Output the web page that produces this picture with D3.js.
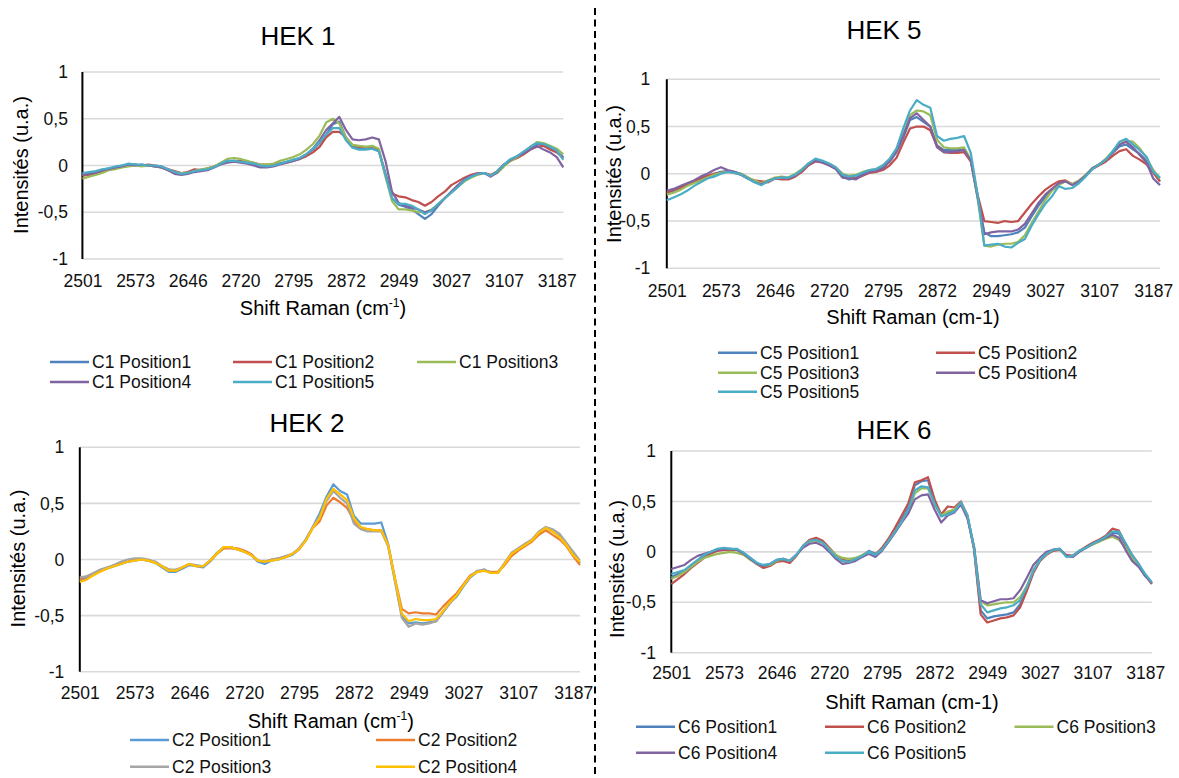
<!DOCTYPE html>
<html>
<head>
<meta charset="utf-8">
<script src="https://cdn.jsdelivr.net/npm/d3@7"></script>
<style>
  body { margin: 0; background: #fff; }
  svg { display: block; }
  text { font-family: "Liberation Sans", Arial, sans-serif; fill: #111; }
</style>
</head>
<body>
<svg id="fig" width="1179" height="778"></svg>
<script>
// Category axis: Raman shift labels shown every 8 samples
const xTickLabels = ["2501", "2573", "2646", "2720", "2795", "2872", "2949", "3027", "3107", "3187"];
const yTickValues = [1, 0.5, 0, -0.5, -1];
const yTickLabels = ["1", "0,5", "0", "-0,5", "-1"];
const SAMPLES_PER_TICK = 8;

// HEK 1 spectra
const c1Position1 = [-0.10,-0.09,-0.07,-0.05,-0.03,-0.02,0.00,0.01,0.01,0.00,
  0.00,-0.01,-0.02,-0.04,-0.07,-0.09,-0.08,-0.06,-0.05,-0.04,
  -0.01,0.02,0.04,0.05,0.04,0.03,0.01,0.00,-0.01,0.00,
  0.02,0.04,0.06,0.08,0.12,0.17,0.24,0.33,0.44,0.47,
  0.30,0.20,0.18,0.18,0.18,0.16,-0.08,-0.35,-0.42,-0.44,
  -0.47,-0.52,-0.57,-0.52,-0.43,-0.35,-0.28,-0.22,-0.16,-0.12,
  -0.09,-0.08,-0.11,-0.06,0.01,0.06,0.10,0.14,0.19,0.23,
  0.22,0.19,0.15,0.09];
const c1Position2 = [-0.11,-0.10,-0.08,-0.06,-0.04,-0.02,-0.01,0.00,0.01,0.00,
  0.01,0.00,-0.01,-0.04,-0.06,-0.08,-0.07,-0.04,-0.05,-0.03,
  -0.01,0.02,0.04,0.05,0.05,0.04,0.03,0.01,0.01,0.01,
  0.02,0.03,0.05,0.07,0.10,0.14,0.20,0.30,0.36,0.36,
  0.30,0.22,0.20,0.20,0.19,0.16,-0.10,-0.30,-0.33,-0.34,
  -0.37,-0.39,-0.43,-0.39,-0.33,-0.28,-0.21,-0.17,-0.13,-0.10,
  -0.08,-0.08,-0.10,-0.06,0.01,0.05,0.08,0.12,0.17,0.20,
  0.21,0.17,0.14,0.08];
const c1Position3 = [-0.14,-0.12,-0.10,-0.08,-0.05,-0.04,-0.02,-0.01,0.00,-0.01,
  0.00,-0.01,-0.02,-0.05,-0.07,-0.08,-0.08,-0.06,-0.04,-0.03,
  -0.01,0.03,0.07,0.08,0.07,0.05,0.03,0.01,0.01,0.02,
  0.05,0.07,0.09,0.12,0.17,0.23,0.32,0.46,0.50,0.45,
  0.30,0.22,0.21,0.20,0.21,0.18,-0.12,-0.38,-0.47,-0.47,
  -0.48,-0.50,-0.50,-0.47,-0.42,-0.35,-0.29,-0.23,-0.17,-0.13,
  -0.10,-0.08,-0.11,-0.08,-0.01,0.05,0.09,0.14,0.20,0.25,
  0.24,0.21,0.18,0.12];
const c1Position4 = [-0.10,-0.09,-0.08,-0.05,-0.04,-0.02,-0.01,0.01,0.00,0.01,
  0.00,-0.01,-0.02,-0.05,-0.09,-0.10,-0.09,-0.07,-0.06,-0.05,
  -0.02,0.01,0.03,0.04,0.03,0.02,0.00,-0.02,-0.02,-0.01,
  0.01,0.03,0.05,0.07,0.12,0.18,0.27,0.38,0.45,0.52,
  0.38,0.28,0.27,0.28,0.30,0.28,0.05,-0.28,-0.40,-0.43,
  -0.45,-0.47,-0.50,-0.48,-0.42,-0.35,-0.28,-0.21,-0.15,-0.11,
  -0.09,-0.08,-0.12,-0.07,0.01,0.06,0.10,0.13,0.17,0.21,
  0.17,0.14,0.09,-0.02];
const c1Position5 = [-0.08,-0.07,-0.06,-0.04,-0.03,-0.01,0.00,0.02,0.01,0.01,
  0.00,0.00,-0.01,-0.04,-0.07,-0.09,-0.08,-0.06,-0.05,-0.04,
  -0.02,0.02,0.05,0.05,0.04,0.03,0.02,0.00,-0.01,0.00,
  0.02,0.04,0.06,0.08,0.12,0.18,0.25,0.33,0.40,0.40,
  0.27,0.19,0.17,0.17,0.18,0.15,-0.10,-0.35,-0.41,-0.41,
  -0.43,-0.47,-0.52,-0.48,-0.41,-0.35,-0.29,-0.23,-0.16,-0.12,
  -0.09,-0.08,-0.11,-0.06,0.01,0.07,0.10,0.15,0.20,0.24,
  0.23,0.20,0.16,0.06];

// HEK 5 spectra
const c5Position1 = [-0.20,-0.18,-0.15,-0.12,-0.09,-0.06,-0.03,0.00,0.02,0.03,
  0.02,0.00,-0.04,-0.08,-0.10,-0.07,-0.05,-0.04,-0.05,-0.02,
  0.04,0.11,0.15,0.13,0.10,0.06,-0.03,-0.06,-0.04,0.00,
  0.02,0.03,0.07,0.13,0.23,0.38,0.57,0.60,0.55,0.50,
  0.30,0.25,0.25,0.25,0.26,0.14,-0.25,-0.62,-0.66,-0.66,
  -0.65,-0.64,-0.62,-0.57,-0.45,-0.34,-0.25,-0.17,-0.11,-0.08,
  -0.11,-0.08,-0.02,0.06,0.10,0.15,0.22,0.29,0.31,0.26,
  0.21,0.14,0.02,-0.08];
const c5Position2 = [-0.20,-0.17,-0.15,-0.11,-0.08,-0.05,-0.02,0.00,0.01,0.03,
  0.01,-0.01,-0.05,-0.07,-0.08,-0.09,-0.05,-0.06,-0.06,-0.03,
  0.02,0.09,0.13,0.12,0.09,0.06,0.00,-0.04,-0.05,-0.02,
  0.01,0.02,0.04,0.09,0.17,0.33,0.48,0.50,0.50,0.46,
  0.29,0.23,0.22,0.22,0.23,0.13,-0.22,-0.50,-0.51,-0.52,
  -0.50,-0.51,-0.50,-0.41,-0.32,-0.24,-0.17,-0.12,-0.08,-0.07,
  -0.11,-0.08,-0.02,0.05,0.09,0.13,0.19,0.24,0.26,0.19,
  0.15,0.10,0.01,-0.08];
const c5Position3 = [-0.22,-0.20,-0.17,-0.13,-0.10,-0.07,-0.04,-0.01,0.01,0.02,
  0.01,0.00,-0.04,-0.07,-0.10,-0.07,-0.04,-0.03,-0.04,0.00,
  0.05,0.11,0.15,0.13,0.11,0.07,0.00,-0.02,-0.01,0.02,
  0.04,0.05,0.09,0.16,0.26,0.42,0.62,0.67,0.66,0.62,
  0.36,0.28,0.27,0.27,0.28,0.15,-0.26,-0.76,-0.77,-0.75,
  -0.74,-0.74,-0.72,-0.65,-0.52,-0.40,-0.28,-0.18,-0.12,-0.08,
  -0.11,-0.07,-0.01,0.06,0.10,0.16,0.24,0.31,0.35,0.34,
  0.27,0.17,0.04,-0.05];
const c5Position4 = [-0.18,-0.16,-0.13,-0.10,-0.07,-0.03,0.00,0.04,0.07,0.04,
  0.02,-0.01,-0.05,-0.09,-0.11,-0.08,-0.05,-0.04,-0.05,-0.02,
  0.04,0.10,0.14,0.12,0.09,0.05,-0.04,-0.05,-0.06,-0.01,
  0.02,0.03,0.06,0.13,0.24,0.40,0.59,0.64,0.57,0.50,
  0.28,0.23,0.23,0.24,0.25,0.14,-0.24,-0.64,-0.62,-0.61,
  -0.61,-0.61,-0.59,-0.53,-0.42,-0.31,-0.22,-0.16,-0.10,-0.08,
  -0.12,-0.08,-0.02,0.06,0.10,0.15,0.23,0.31,0.34,0.28,
  0.20,0.12,-0.05,-0.12];
const c5Position5 = [-0.28,-0.25,-0.22,-0.18,-0.13,-0.09,-0.05,-0.03,0.00,0.02,
  0.01,-0.01,-0.05,-0.09,-0.12,-0.08,-0.05,-0.04,-0.04,-0.01,
  0.04,0.11,0.16,0.14,0.11,0.07,-0.01,-0.03,-0.02,0.01,
  0.04,0.05,0.09,0.16,0.27,0.48,0.67,0.78,0.73,0.70,
  0.40,0.35,0.37,0.38,0.40,0.22,-0.22,-0.76,-0.75,-0.74,
  -0.77,-0.78,-0.73,-0.69,-0.55,-0.43,-0.32,-0.24,-0.13,-0.16,
  -0.15,-0.10,-0.03,0.05,0.10,0.15,0.24,0.34,0.37,0.31,
  0.25,0.18,0.02,-0.04];

// HEK 2 spectra
const c2Position1 = [-0.19,-0.17,-0.13,-0.10,-0.08,-0.06,-0.04,-0.02,-0.01,0.00,
  -0.01,-0.03,-0.07,-0.11,-0.11,-0.08,-0.05,-0.06,-0.07,-0.02,
  0.05,0.10,0.11,0.09,0.07,0.04,-0.02,-0.04,-0.01,0.00,
  0.02,0.04,0.09,0.18,0.29,0.41,0.56,0.67,0.61,0.58,
  0.39,0.32,0.32,0.32,0.33,0.14,-0.18,-0.50,-0.57,-0.56,
  -0.57,-0.56,-0.55,-0.47,-0.39,-0.33,-0.24,-0.16,-0.11,-0.09,
  -0.12,-0.12,-0.04,0.05,0.09,0.14,0.17,0.24,0.28,0.25,
  0.21,0.13,0.05,-0.03];
const c2Position2 = [-0.18,-0.15,-0.13,-0.10,-0.08,-0.05,-0.03,-0.02,0.00,0.00,
  -0.01,-0.02,-0.06,-0.09,-0.10,-0.07,-0.04,-0.06,-0.06,-0.01,
  0.05,0.10,0.10,0.10,0.08,0.05,-0.01,-0.02,0.00,0.01,
  0.02,0.05,0.09,0.17,0.28,0.34,0.48,0.55,0.51,0.46,
  0.35,0.28,0.27,0.26,0.26,0.12,-0.17,-0.44,-0.48,-0.47,
  -0.48,-0.48,-0.49,-0.42,-0.36,-0.30,-0.22,-0.14,-0.11,-0.10,
  -0.11,-0.11,-0.05,0.03,0.08,0.12,0.16,0.22,0.26,0.22,
  0.18,0.12,0.03,-0.05];
const c2Position3 = [-0.16,-0.15,-0.12,-0.09,-0.07,-0.05,-0.02,0.00,0.01,0.01,
  0.00,-0.02,-0.06,-0.09,-0.09,-0.07,-0.04,-0.05,-0.06,-0.01,
  0.06,0.11,0.11,0.09,0.07,0.04,-0.01,-0.02,0.00,0.01,
  0.03,0.05,0.10,0.18,0.29,0.38,0.52,0.61,0.55,0.50,
  0.32,0.27,0.25,0.25,0.25,0.12,-0.20,-0.52,-0.60,-0.57,
  -0.58,-0.57,-0.55,-0.47,-0.39,-0.32,-0.23,-0.15,-0.10,-0.09,
  -0.12,-0.12,-0.03,0.06,0.10,0.14,0.18,0.25,0.29,0.27,
  0.23,0.15,0.07,-0.01];
const c2Position4 = [-0.20,-0.18,-0.14,-0.11,-0.08,-0.06,-0.04,-0.02,-0.01,0.00,
  -0.01,-0.03,-0.06,-0.10,-0.10,-0.07,-0.04,-0.06,-0.06,-0.01,
  0.05,0.11,0.11,0.09,0.07,0.04,-0.01,-0.02,-0.01,0.00,
  0.02,0.05,0.09,0.17,0.28,0.37,0.54,0.63,0.58,0.53,
  0.37,0.29,0.27,0.26,0.26,0.13,-0.17,-0.48,-0.55,-0.53,
  -0.54,-0.54,-0.53,-0.46,-0.38,-0.32,-0.23,-0.15,-0.11,-0.10,
  -0.12,-0.12,-0.04,0.05,0.09,0.13,0.17,0.24,0.28,0.25,
  0.20,0.13,0.04,-0.02];

// HEK 6 spectra
const c6Position1 = [-0.25,-0.22,-0.19,-0.14,-0.09,-0.04,-0.01,0.02,0.03,0.03,
  0.02,-0.01,-0.06,-0.11,-0.14,-0.13,-0.09,-0.08,-0.09,-0.03,
  0.05,0.11,0.12,0.09,0.02,-0.04,-0.09,-0.10,-0.07,-0.04,
  0.01,-0.02,0.03,0.12,0.21,0.32,0.44,0.66,0.70,0.71,
  0.48,0.36,0.38,0.41,0.49,0.34,0.03,-0.58,-0.66,-0.64,
  -0.63,-0.62,-0.60,-0.52,-0.37,-0.20,-0.09,-0.02,0.02,0.03,
  -0.04,-0.04,0.01,0.04,0.08,0.11,0.15,0.19,0.18,0.07,
  -0.04,-0.13,-0.23,-0.31];
const c6Position2 = [-0.32,-0.27,-0.22,-0.16,-0.11,-0.06,-0.02,0.01,0.02,0.02,
  0.02,-0.02,-0.07,-0.12,-0.16,-0.14,-0.10,-0.09,-0.11,-0.04,
  0.06,0.12,0.14,0.11,0.04,-0.03,-0.08,-0.09,-0.07,-0.05,
  0.00,-0.03,0.04,0.13,0.24,0.36,0.48,0.69,0.71,0.74,
  0.52,0.37,0.45,0.44,0.50,0.36,0.02,-0.62,-0.70,-0.68,
  -0.66,-0.65,-0.63,-0.55,-0.39,-0.21,-0.09,-0.03,0.01,0.02,
  -0.03,-0.04,0.01,0.05,0.09,0.12,0.16,0.23,0.21,0.08,
  -0.03,-0.12,-0.23,-0.32];
const c6Position3 = [-0.27,-0.24,-0.20,-0.15,-0.10,-0.06,-0.04,-0.02,-0.01,0.00,
  -0.01,-0.03,-0.08,-0.12,-0.14,-0.13,-0.09,-0.07,-0.09,-0.03,
  0.05,0.10,0.11,0.09,0.03,-0.03,-0.06,-0.07,-0.06,-0.03,
  0.00,-0.03,0.02,0.10,0.20,0.30,0.40,0.58,0.63,0.63,
  0.47,0.36,0.40,0.42,0.49,0.35,0.05,-0.49,-0.53,-0.52,
  -0.51,-0.50,-0.50,-0.45,-0.34,-0.18,-0.08,-0.02,0.02,0.03,
  -0.04,-0.05,0.01,0.04,0.07,0.10,0.13,0.15,0.12,0.04,
  -0.06,-0.14,-0.24,-0.31];
const c6Position4 = [-0.17,-0.15,-0.13,-0.08,-0.04,-0.02,0.00,0.02,0.03,0.03,
  0.02,-0.02,-0.07,-0.12,-0.14,-0.12,-0.08,-0.07,-0.09,-0.03,
  0.04,0.08,0.09,0.06,0.00,-0.07,-0.12,-0.11,-0.09,-0.05,
  -0.02,-0.05,0.01,0.10,0.19,0.29,0.38,0.52,0.56,0.57,
  0.42,0.29,0.36,0.39,0.47,0.33,0.05,-0.48,-0.51,-0.49,
  -0.47,-0.47,-0.46,-0.38,-0.26,-0.13,-0.06,0.00,0.02,0.03,
  -0.04,-0.05,0.00,0.04,0.08,0.11,0.14,0.17,0.14,0.02,
  -0.09,-0.15,-0.24,-0.31];
const c6Position5 = [-0.22,-0.20,-0.18,-0.13,-0.08,-0.03,0.00,0.03,0.04,0.03,
  0.03,-0.01,-0.06,-0.11,-0.13,-0.12,-0.08,-0.07,-0.09,-0.03,
  0.06,0.11,0.12,0.09,0.02,-0.05,-0.09,-0.10,-0.07,-0.04,
  0.00,-0.03,0.02,0.11,0.20,0.30,0.42,0.61,0.65,0.64,
  0.48,0.35,0.37,0.40,0.49,0.36,0.04,-0.52,-0.60,-0.58,
  -0.56,-0.55,-0.53,-0.48,-0.35,-0.19,-0.08,-0.02,0.02,0.03,
  -0.05,-0.04,0.01,0.04,0.08,0.11,0.15,0.20,0.20,0.09,
  -0.03,-0.12,-0.22,-0.30];

const paletteA = ["#4F81BD", "#C0504D", "#9BBB59", "#8064A2", "#4BACC6"];
const paletteB = ["#5B9BD5", "#ED7D31", "#A5A5A5", "#FFC000"];

const panels = [
  { title: "HEK 1", titlePos: [298, 45],
    names: ["C1 Position1", "C1 Position2", "C1 Position3", "C1 Position4", "C1 Position5"],
    series: [c1Position1, c1Position2, c1Position3, c1Position4, c1Position5], colors: paletteA,
    frame: { left: 82.4, right: 563.3, top: 72, bottom: 259 },
    tickBase: 287, yPad: 14.5, xTitle: [323, 315], sup: true, yTitle: [21, 165],
    legendCols: [50, 233, 417], legendRows: [362, 382] },
  { title: "HEK 5", titlePos: [884, 39],
    names: ["C5 Position1", "C5 Position2", "C5 Position3", "C5 Position4", "C5 Position5"],
    series: [c5Position1, c5Position2, c5Position3, c5Position4, c5Position5], colors: paletteA,
    frame: { left: 666.8, right: 1160, top: 79.3, bottom: 268.3 },
    tickBase: 297, yPad: 16.5, xTitle: [913, 324], sup: false, yTitle: [613.5, 174],
    legendCols: [718, 936], legendRows: [352.7, 372.7, 391.7] },
  { title: "HEK 2", titlePos: [307, 431.7],
    names: ["C2 Position1", "C2 Position2", "C2 Position3", "C2 Position4"],
    series: [c2Position1, c2Position2, c2Position3, c2Position4], colors: paletteB,
    frame: { left: 79.8, right: 580, top: 447.3, bottom: 671.7 },
    tickBase: 699, yPad: 15.5, xTitle: [330.8, 727.5], sup: true, yTitle: [18, 558.5],
    legendCols: [130, 376], legendRows: [740, 766.7] },
  { title: "HEK 6", titlePos: [894, 439.3],
    names: ["C6 Position1", "C6 Position2", "C6 Position3", "C6 Position4", "C6 Position5"],
    series: [c6Position1, c6Position2, c6Position3, c6Position4, c6Position5], colors: paletteA,
    frame: { left: 671.3, right: 1151.8, top: 451, bottom: 652.7 },
    tickBase: 679, yPad: 15.3, xTitle: [912, 709], sup: false, yTitle: [617, 569],
    legendCols: [636, 825, 1014.5], legendRows: [726.7, 752.7] }
];

const svg = d3.select("#fig");

// dashed separator between the left and right columns
svg.append("line")
  .attr("x1", 595).attr("x2", 595).attr("y1", 8).attr("y2", 776)
  .attr("stroke", "#000").attr("stroke-width", 2).attr("stroke-dasharray", "7 4.5");

panels.forEach(p => {
  const f = p.frame;
  const nSamples = p.series[0].length;
  const x = d3.scaleLinear()
    .domain([0, (nSamples - 1) / SAMPLES_PER_TICK])
    .range([f.left, f.right]);
  const y = d3.scaleLinear().domain([-1, 1]).range([f.bottom, f.top]);
  const g = svg.append("g");

  // horizontal gridlines
  g.append("g").selectAll("line").data(yTickValues).join("line")
    .attr("x1", f.left).attr("x2", f.right)
    .attr("y1", d => y(d)).attr("y2", d => y(d))
    .attr("stroke", "#d9d9d9").attr("stroke-width", 1.6);

  // x tick labels (category axis, no ticks)
  const xAxis = g.append("g").attr("transform", `translate(0,${f.bottom})`)
    .call(d3.axisBottom(x)
      .tickValues(d3.range(xTickLabels.length))
      .tickFormat(i => xTickLabels[i])
      .tickSize(0));
  xAxis.select(".domain").remove();
  xAxis.selectAll("text")
    .attr("y", p.tickBase - f.bottom).attr("dy", null)
    .style("font-size", "17.5px").style("fill", "#111");

  // y tick labels
  const yAxis = g.append("g").attr("transform", `translate(${f.left},0)`)
    .call(d3.axisLeft(y)
      .tickValues(yTickValues)
      .tickFormat((d, i) => yTickLabels[i])
      .tickSize(0).tickPadding(p.yPad));
  yAxis.select(".domain").remove();
  yAxis.selectAll("text").style("font-size", "17.5px").style("fill", "#111");

  // vertical axis line
  g.append("line")
    .attr("x1", f.left).attr("x2", f.left)
    .attr("y1", y(1)).attr("y2", y(-1))
    .attr("stroke", "#000").attr("stroke-width", 2);

  // spectra
  const line = d3.line()
    .x((d, i) => x(i / SAMPLES_PER_TICK))
    .y(d => y(d));
  p.series.forEach((s, k) => {
    g.append("path").datum(s)
      .attr("d", line)
      .attr("fill", "none")
      .attr("stroke", p.colors[k])
      .attr("stroke-width", 2.2)
      .attr("stroke-linejoin", "round");
  });

  // chart title
  g.append("text")
    .attr("x", p.titlePos[0]).attr("y", p.titlePos[1])
    .attr("text-anchor", "middle")
    .style("font-size", "26px").style("fill", "#000")
    .text(p.title);

  // x-axis title
  const xt = g.append("text")
    .attr("x", p.xTitle[0]).attr("y", p.xTitle[1])
    .attr("text-anchor", "middle")
    .style("font-size", "20px").style("fill", "#000");
  if (p.sup) {
    xt.append("tspan").text("Shift Raman (cm");
    xt.append("tspan").attr("dy", -8).style("font-size", "12px").text("-1");
    xt.append("tspan").attr("dy", 8).text(")");
  } else {
    xt.text("Shift Raman (cm-1)");
  }

  // y-axis title
  g.append("text")
    .attr("transform", `translate(${p.yTitle[0]},${p.yTitle[1]}) rotate(-90)`)
    .attr("text-anchor", "middle").attr("dy", "0.35em")
    .style("font-size", "20px").style("fill", "#000")
    .text("Intensités (u.a.)");

  // legend, filled row by row
  const nCols = p.legendCols.length;
  const items = g.append("g").selectAll("g").data(p.names).join("g")
    .attr("transform", (d, i) =>
      `translate(${p.legendCols[i % nCols]},${p.legendRows[Math.floor(i / nCols)]})`);
  items.append("line")
    .attr("x1", 0).attr("x2", 39).attr("y1", 0).attr("y2", 0)
    .attr("stroke", (d, i) => p.colors[i]).attr("stroke-width", 2.5);
  items.append("text")
    .attr("x", 42).attr("dy", "0.35em")
    .style("font-size", "17.5px").style("fill", "#111")
    .text(d => d);
});
</script>
</body>
</html>
